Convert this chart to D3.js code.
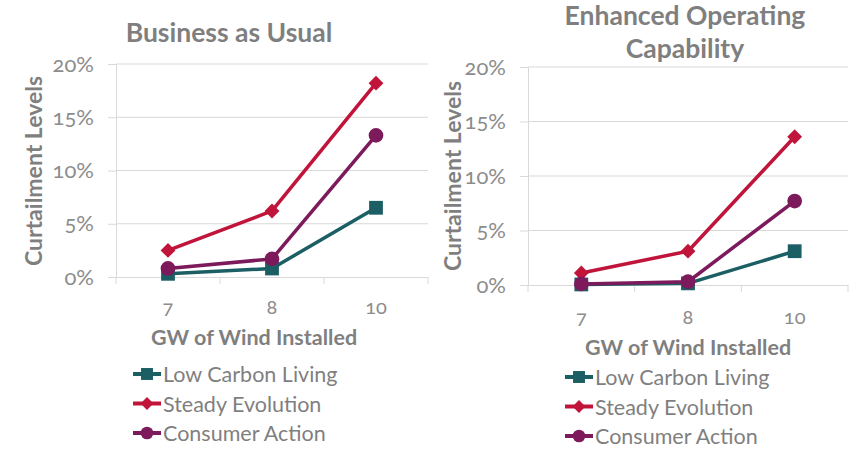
<!DOCTYPE html>
<html>
<head>
<meta charset="utf-8">
<script src="https://cdn.jsdelivr.net/npm/d3@7"></script>
<style>
  html, body { margin: 0; padding: 0; background: #ffffff; }
  svg text { font-family: Lato, "Open Sans", sans-serif; font-variant-numeric: oldstyle-nums; }
</style>
</head>
<body>
<svg id="chart" width="855" height="455"></svg>
<script>
// Categories and tick values shared by both panels
const categories = ["7", "8", "10"];
const yTickValues = [0, 0.05, 0.10, 0.15, 0.20];
const seriesNames = ["Low Carbon Living", "Steady Evolution", "Consumer Action"];

// Business as Usual curtailment levels (share of wind output)
const busLowCarbon = [0.003, 0.008, 0.065];
const busSteady    = [0.025, 0.062, 0.182];
const busConsumer  = [0.008, 0.017, 0.133];

// Enhanced Operating Capability curtailment levels
const eocLowCarbon = [0.0005, 0.0015, 0.031];
const eocSteady    = [0.011, 0.031, 0.136];
const eocConsumer  = [0.001, 0.003, 0.077];

const colors = { "Low Carbon Living": "#1b5e64", "Steady Evolution": "#c0143a", "Consumer Action": "#7d1a5c" };
const shapes = { "Low Carbon Living": d3.symbolSquare, "Steady Evolution": d3.symbolDiamond2, "Consumer Action": d3.symbolCircle };
const shapeSize = { "Low Carbon Living": 190, "Steady Evolution": 140, "Consumer Action": 170 };

const svg = d3.select("#chart");
const textGray = "#7f7f7f";
const tickGray = "#8c8c8c";
const lineGray = "#d9d9d9";

function drawPanel(p) {
  const g = svg.append("g");
  const x = d3.scaleBand().domain(categories).range([p.left, p.right]).padding(0);
  const y = d3.scaleLinear().domain([0, 0.20]).range([p.bottom, p.top]);

  // title
  p.title.forEach((line, i) => {
    g.append("text").attr("x", p.titleX).attr("y", p.titleY + i * 33)
      .attr("text-anchor", "middle").attr("font-size", 26.5).attr("font-weight", "bold")
      .attr("fill", textGray).text(line);
  });

  // horizontal gridlines
  g.append("g").selectAll("line").data(yTickValues.slice(1)).join("line")
    .attr("x1", p.left).attr("x2", p.right)
    .attr("y1", d => y(d)).attr("y2", d => y(d))
    .attr("stroke", lineGray).attr("stroke-width", 1);

  // y axis
  const yAxis = d3.axisLeft(y).tickValues(yTickValues).tickFormat(d3.format(".0%")).tickSize(8).tickPadding(14);
  const ya = g.append("g").attr("transform", `translate(${p.left},0)`).call(yAxis);
  ya.select(".domain").attr("stroke", lineGray);
  ya.selectAll(".tick line").attr("stroke", lineGray);
  ya.selectAll(".tick text").attr("fill", tickGray).attr("font-size", 22).attr("font-family", "Lato, sans-serif");

  // x axis
  const xAxis = d3.axisBottom(x).tickSize(0).tickPadding(p.xTickPad);
  const xa = g.append("g").attr("transform", `translate(0,${p.bottom})`).call(xAxis);
  xa.select(".domain").attr("stroke", lineGray);
  xa.selectAll(".tick text").attr("fill", tickGray).attr("font-size", 20).attr("font-family", "Lato, sans-serif");
  // category boundary ticks
  const bounds = categories.map(c => x(c)).concat([x(categories[categories.length - 1]) + x.bandwidth()]);
  xa.append("g").selectAll("line").data(bounds).join("line")
    .attr("x1", d => d).attr("x2", d => d).attr("y1", 0).attr("y2", 7)
    .attr("stroke", lineGray);

  // axis titles
  g.append("text").attr("transform", `translate(${p.yTitleX},${p.yTitleY}) rotate(-90)`)
    .attr("text-anchor", "middle").attr("font-size", 23).attr("font-weight", "bold")
    .attr("fill", textGray).text("Curtailment Levels");
  g.append("text").attr("x", p.xTitleX).attr("y", p.xTitleY)
    .attr("text-anchor", "middle").attr("font-size", 21.5).attr("font-weight", "bold")
    .attr("fill", textGray).text("GW of Wind Installed");

  // series lines and markers
  const line = d3.line().x((d, i) => x(categories[i]) + x.bandwidth() / 2).y(d => y(d));
  p.series.forEach(s => {
    g.append("path").datum(s.values).attr("d", line)
      .attr("fill", "none").attr("stroke", colors[s.name]).attr("stroke-width", 3.5)
      .attr("stroke-linejoin", "round");
    g.append("g").selectAll("path").data(s.values).join("path")
      .attr("transform", (d, i) => `translate(${x(categories[i]) + x.bandwidth() / 2},${y(d)})`)
      .attr("d", d3.symbol().type(shapes[s.name]).size(shapeSize[s.name]))
      .attr("fill", colors[s.name]);
  });

  // legend
  seriesNames.forEach((name, i) => {
    const ly = p.legendY + i * 29.5;
    const lg = g.append("g").attr("transform", `translate(${p.legendX},${ly})`);
    lg.append("line").attr("x1", 0).attr("x2", 28).attr("y1", -8).attr("y2", -8)
      .attr("stroke", colors[name]).attr("stroke-width", 4);
    lg.append("path").attr("transform", "translate(14,-8)")
      .attr("d", d3.symbol().type(shapes[name]).size(shapeSize[name] * 0.75))
      .attr("fill", colors[name]);
    lg.append("text").attr("x", 30).attr("y", 0).attr("font-size", 21.5)
      .attr("fill", textGray).text(name);
  });
}

drawPanel({
  title: ["Business as Usual"], titleX: 229, titleY: 42,
  left: 116, right: 428, top: 64, bottom: 277,
  xTickPad: 23, yTitleX: 42, yTitleY: 171,
  xTitleX: 254, xTitleY: 345,
  legendX: 133, legendY: 382,
  series: [
    { name: "Low Carbon Living", values: busLowCarbon },
    { name: "Steady Evolution", values: busSteady },
    { name: "Consumer Action", values: busConsumer }
  ]
});

drawPanel({
  title: ["Enhanced Operating", "Capability"], titleX: 685, titleY: 25,
  left: 528, right: 848, top: 67, bottom: 285,
  xTickPad: 25, yTitleX: 461, yTitleY: 176,
  xTitleX: 688, xTitleY: 355,
  legendX: 565, legendY: 385,
  series: [
    { name: "Low Carbon Living", values: eocLowCarbon },
    { name: "Steady Evolution", values: eocSteady },
    { name: "Consumer Action", values: eocConsumer }
  ]
});
</script>
</body>
</html>
